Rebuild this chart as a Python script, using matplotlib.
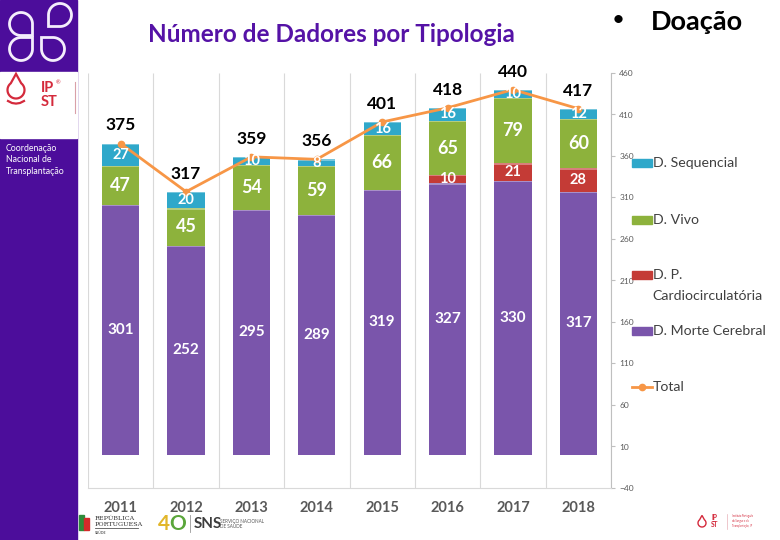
import numpy as np
import matplotlib
matplotlib.use('Agg')
import matplotlib.pyplot as plt
from matplotlib.patches import Rectangle, Polygon
from matplotlib.lines import Line2D

plt.rcParams['font.family'] = ['Lato', 'DejaVu Sans']

years = ['2011', '2012', '2013', '2014', '2015', '2016', '2017', '2018']
morte_cerebral = [301, 252, 295, 289, 319, 327, 330, 317]
cardio = [0, 0, 0, 0, 0, 10, 21, 28]
vivo = [47, 45, 54, 59, 66, 65, 79, 60]
sequencial = [27, 20, 10, 8, 16, 16, 10, 12]
total = [375, 317, 359, 356, 401, 418, 440, 417]
yticks = list(range(-40, 461, 50))

series = [
    ('D. Morte Cerebral', morte_cerebral, '#7a55ab', 11),
    ('D. P.\nCardiocirculatória', cardio, '#c43b36', 10.5),
    ('D. Vivo', vivo, '#8db23c', 13),
    ('D. Sequencial', sequencial, '#2fa8ca', 10.5),
]
line_color = '#f79646'
red = '#d42a3c'

W, H = 780, 540
fig = plt.figure(figsize=(W / 100, H / 100), dpi=100)


def fx(x):
    return x / W


def fy(y):
    return 1 - y / H


# ---- slide decoration ----
fig.patches.append(Rectangle((0, 0), fx(77), 1, transform=fig.transFigure,
                             color='#4c0d9b', zorder=0))
fig.patches.append(Rectangle((0, fy(138)), fx(77), fy(72) - fy(138),
                             transform=fig.transFigure, color='white', zorder=1))


def drop(c, r, d, k=1.414, spread=45):
    d = np.array(d, float)
    d = d / np.hypot(*d)
    a0 = np.degrees(np.arctan2(d[1], d[0]))
    ang = np.radians(np.linspace(a0 + spread, a0 + 360 - spread, 60))
    pts = [(c[0] + r * np.cos(a), c[1] + r * np.sin(a)) for a in ang]
    pts.append((c[0] + d[0] * r * k, c[1] + d[1] * r * k))
    return [(fx(x), fy(y)) for x, y in pts]


for c, d in [((21, 24), (1, 1)), ((60, 15), (-1, 1)),
             ((21, 49), (1, -1)), ((53, 49), (-1, -1))]:
    fig.patches.append(Polygon(drop(c, 11.5, d), closed=True, fill=False,
                               edgecolor='#f4eefc', lw=2,
                               transform=fig.transFigure, zorder=2))

# IPST logo
fig.patches.append(Polygon(drop((16, 90), 8.5, (0, -1), k=1.9, spread=38), closed=True,
                           fill=False, edgecolor=red, lw=1.6,
                           transform=fig.transFigure, zorder=2))
fig.add_artist(Line2D([fx(8), fx(12), fx(16), fx(20), fx(24)],
                      [fy(101), fy(103), fy(103.6), fy(103), fy(101)],
                      color=red, lw=1.6, transform=fig.transFigure))
fig.text(fx(41), fy(88), 'IP', color=red, fontsize=10.5, fontweight='bold',
         va='center', ha='left', zorder=3)
fig.text(fx(41), fy(102), 'ST', color=red, fontsize=10.5, fontweight='bold',
         va='center', ha='left', zorder=3)
fig.text(fx(56), fy(83), '®', color=red, fontsize=4, va='center', zorder=3)
fig.add_artist(Line2D([fx(75), fx(75)], [fy(82), fy(113)], color='#d9a0a8', lw=0.8,
                      transform=fig.transFigure))
fig.text(fx(6), fy(160), 'Coordenação\nNacional de\nTransplantação', color='white',
         fontsize=6.3, va='center', ha='left', linespacing=1.35)

# titles
fig.text(fx(331), fy(34), 'Número de Dadores por Tipologia', color='#5512a6',
         fontsize=17.5, fontweight='bold', ha='center', va='center')
fig.text(fx(612), fy(20), '•', fontsize=16, ha='left', va='center')
fig.text(fx(651), fy(22), 'Doação', fontsize=19.5, fontweight='bold',
         ha='left', va='center')

# bottom logos
fig.patches.append(Rectangle((fx(79), fy(530)), fx(5), fy(515) - fy(530),
                             transform=fig.transFigure, color='#2e8b3a'))
fig.patches.append(Rectangle((fx(84), fy(530)), fx(5), fy(518) - fy(530),
                             transform=fig.transFigure, color='#d42a2a'))
fig.text(fx(95), fy(518), 'REPÚBLICA', fontsize=4.6, color='#333333',
         family='DejaVu Serif', va='center')
fig.text(fx(95), fy(524), 'PORTUGUESA', fontsize=4.6, color='#333333',
         family='DejaVu Serif', va='center')
fig.add_artist(Line2D([fx(95), fx(138)], [fy(528), fy(528)], color='#555555', lw=0.6,
                      transform=fig.transFigure))
fig.text(fx(95), fy(533), 'SAÚDE', fontsize=2.5, color='#333333', va='center')
fig.text(fx(158), fy(524), '4', fontsize=15, fontweight='bold', color='#e2b62a',
         va='center')
fig.text(fx(169), fy(524), 'O', fontsize=15, fontweight='bold', color='#5aa63a',
         va='center')
fig.add_artist(Line2D([fx(190), fx(190)], [fy(515), fy(532)], color='#999999', lw=0.6,
                      transform=fig.transFigure))
fig.text(fx(194), fy(524), 'SNS', fontsize=11, fontweight='bold', color='#3c3c3c',
         va='center')
fig.text(fx(220), fy(524), 'SERVIÇO NACIONAL\nDE SAÚDE', fontsize=3.3,
         color='#555555', va='center', linespacing=1.1)
fig.patches.append(Polygon(drop((702, 523), 4, (0, -1), k=1.9, spread=38), closed=True,
                           fill=False, edgecolor=red, lw=1,
                           transform=fig.transFigure))
fig.text(fx(711), fy(521), 'IP\nST', color=red, fontsize=4.8, fontweight='bold',
         va='center', linespacing=0.9)
fig.add_artist(Line2D([fx(727), fx(727)], [fy(514), fy(529)], color='#e8b0b8', lw=0.5,
                      transform=fig.transFigure))
fig.text(fx(732), fy(521), 'Instituto Português\ndo Sangue e da\nTransplantação, IP',
         color=red, fontsize=1.8, va='center')

# ---- chart ----
ax = fig.add_axes([fx(88), 1 - 488 / H, fx(523), 415 / H])
x = np.arange(len(years))
bottom = np.zeros(len(years))
bw = 0.57
for name, vals, col, fs in series:
    vals = np.array(vals)
    ax.bar(x, vals, bw, bottom=bottom, color=col, edgecolor='none', zorder=2)
    # light top edge to mimic bevel
    ax.bar(x[vals > 0], np.full((vals > 0).sum(), 1.5), bw,
           bottom=(bottom + vals)[vals > 0] - 1.5, color='white', alpha=0.35,
           edgecolor='none', zorder=3)
    for xi, b, v in zip(x, bottom, vals):
        if v > 0:
            ax.text(xi, b + v / 2, str(v), color='white', fontsize=fs,
                    fontweight='bold', ha='center', va='center', zorder=5)
    bottom = bottom + vals

ax.plot(x, total, color=line_color, lw=2, marker='o', ms=4.5, zorder=4)
for xi, t in zip(x, total):
    ax.annotate(str(t), (xi, t), xytext=(0, 13), textcoords='offset points',
                ha='center', va='center', fontsize=12.5, fontweight='bold',
                color='black', zorder=6)

ax.vlines(np.arange(-0.5, len(years)), -40, 460, color='#d9d9d9', lw=0.8, zorder=1)
ax.set_xlim(-0.5, len(years) - 0.5)
ax.set_ylim(-40, 460)
ax.set_xticks(x)
ax.set_xticklabels(years, fontsize=10.5, fontweight='bold', color='#595959')
ax.tick_params(axis='x', length=0, pad=9)
ax.yaxis.tick_right()
ax.set_yticks(yticks)
ax.tick_params(axis='y', labelsize=6, colors='#595959', length=3, color='#bfbfbf',
               pad=3)
for s in ['top', 'left']:
    ax.spines[s].set_visible(False)
ax.spines['bottom'].set_color('#d9d9d9')
ax.spines['right'].set_color('#bfbfbf')

# legend (manual, as in the slide)
legend_rows = [('D. Sequencial', '#2fa8ca', 163), ('D. Vivo', '#8db23c', 220),
               ('D. P.\nCardiocirculatória', '#c43b36', 275),
               ('D. Morte Cerebral', '#7a55ab', 331)]
for lab, col, yy in legend_rows:
    fig.patches.append(Rectangle((fx(632), fy(yy + 4)), fx(20), fy(yy - 4) - fy(yy + 4),
                                 transform=fig.transFigure, color=col))
    first, *rest = lab.split('\n')
    fig.text(fx(653), fy(yy), first, fontsize=10.2, color='#404040', va='center')
    if rest:
        fig.text(fx(652), fy(yy + 21), rest[0], fontsize=10.2, color='#404040',
                 va='center')
fig.add_artist(Line2D([fx(632), fx(652)], [fy(387), fy(387)], color=line_color, lw=2,
                      transform=fig.transFigure))
fig.add_artist(Line2D([fx(642)], [fy(387)], color=line_color, marker='o', ms=4.5,
                      transform=fig.transFigure))
fig.text(fx(653), fy(387), 'Total', fontsize=10.2, color='#404040', va='center')

fig.savefig('out.png', dpi=100)
